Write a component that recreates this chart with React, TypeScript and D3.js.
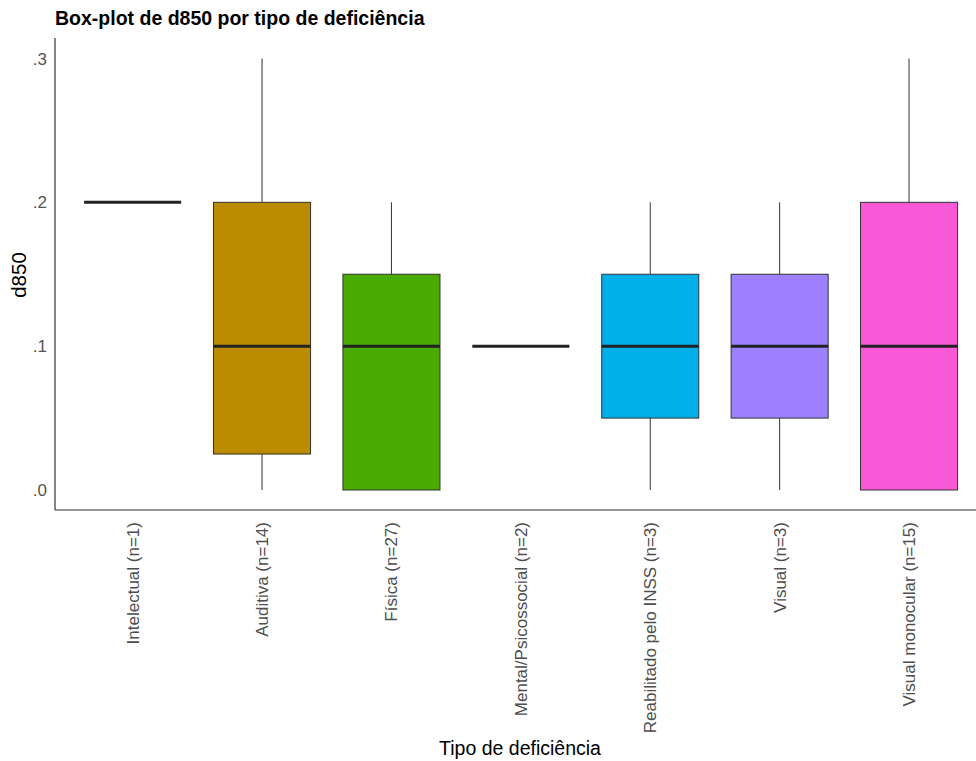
import React from "react";
import * as d3 from "d3";

const categories = [
  "Intelectual (n=1)",
  "Auditiva (n=14)",
  "Física (n=27)",
  "Mental/Psicossocial (n=2)",
  "Reabilitado pelo INSS (n=3)",
  "Visual (n=3)",
  "Visual monocular (n=15)",
];
const whiskerLow = [0.2, 0.0, 0.0, 0.1, 0.0, 0.0, 0.0];
const q1 = [0.2, 0.025, 0.0, 0.1, 0.05, 0.05, 0.0];
const median = [0.2, 0.1, 0.1, 0.1, 0.1, 0.1, 0.1];
const q3 = [0.2, 0.2, 0.15, 0.1, 0.15, 0.15, 0.2];
const whiskerHigh = [0.2, 0.3, 0.2, 0.1, 0.2, 0.2, 0.3];
const colors = ["#F8766D", "#BB8B00", "#49AB00", "#00BD8F", "#00AFE8", "#9C80FF", "#F958D6"];
const yTicks = [0, 0.1, 0.2, 0.3];
const yTickLabels = [".0", ".1", ".2", ".3"];

export default function App() {
  const W = 976, H = 761;
  const left = 55, top = 38, bottom = 510;
  const unit = 129.4;
  const x = d3.scaleLinear().domain([0, 1]).range([left + 0.6 * unit, left + 1.6 * unit]);
  const y = d3.scaleLinear().domain([0, 0.3]).range([490, 58.5]);
  const bw = 0.75 * unit;
  const font = "Liberation Sans, Arial, sans-serif";
  return (
    <svg width={W} height={H} style={{ position: "absolute", left: 0, top: 0, background: "#fff" }} fontFamily={font}>
      <rect x={0} y={0} width={W} height={H} fill="#fff" />
      <text x={55} y={25} fontSize={19.5} fontWeight="bold" fill="#000">Box-plot de d850 por tipo de deficiência</text>
      {categories.map((c, i) => {
        const cx = x(i);
        const flat = q1[i] === q3[i];
        return (
          <g key={c}>
            {!flat && (
              <>
                <line x1={cx} x2={cx} y1={y(q3[i])} y2={y(whiskerHigh[i])} stroke="#333" strokeWidth={1} />
                <line x1={cx} x2={cx} y1={y(q1[i])} y2={y(whiskerLow[i])} stroke="#333" strokeWidth={1} />
                <rect x={cx - bw / 2} y={y(q3[i])} width={bw} height={y(q1[i]) - y(q3[i])} fill={colors[i]} stroke="#333" strokeWidth={1} />
              </>
            )}
            <line x1={cx - bw / 2} x2={cx + bw / 2} y1={y(median[i])} y2={y(median[i])} stroke="#222" strokeWidth={3} />
            <text
              transform={`translate(${cx + 6},${522}) rotate(-90)`}
              textAnchor="end"
              fontSize={17}
              fill="#4D4D4D"
            >{c}</text>
          </g>
        );
      })}
      <line x1={left} x2={left} y1={top} y2={bottom} stroke="#333" strokeWidth={1.2} />
      <line x1={left} x2={W} y1={bottom} y2={bottom} stroke="#333" strokeWidth={1.2} />
      {yTicks.map((t, i) => (
        <text key={t} x={47} y={y(t) + 6} textAnchor="end" fontSize={17} fill="#555">{yTickLabels[i]}</text>
      ))}
      <text transform={`translate(26,${275}) rotate(-90)`} textAnchor="middle" fontSize={20.5} fill="#000">d850</text>
      <text x={520} y={755} textAnchor="middle" fontSize={19.5} fill="#000">Tipo de deficiência</text>
    </svg>
  );
}
